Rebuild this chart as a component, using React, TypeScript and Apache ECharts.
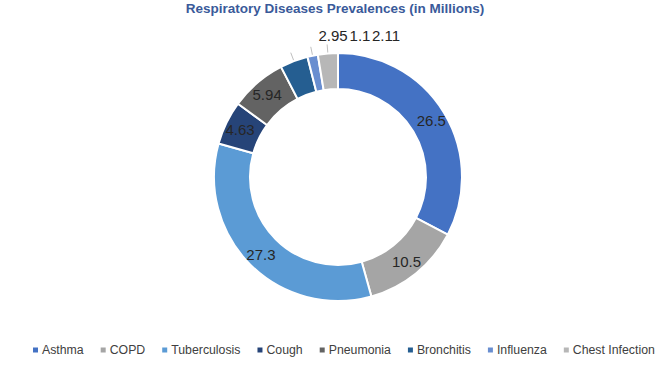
import React, { useEffect, useRef } from "react";
import * as echarts from "echarts";

const categories = ["Asthma", "COPD", "Tuberculosis", "Cough", "Pneumonia", "Bronchitis", "Influenza", "Chest Infection"];
const values = [26.5, 10.5, 27.3, 4.63, 5.94, 2.95, 1.1, 2.11];
const colors = ["#4472C4", "#A5A5A5", "#5B9BD5", "#264478", "#636363", "#255E91", "#698ED0", "#B7B7B7"];
const labelLabels = ["26.5", "10.5", "27.3", "4.63", "5.94", "2.95", "1.1", "2.11"];
const topLabelX = [0, 0, 0, 0, 0, 333, 360, 386];

export default function App() {
  const ref = useRef<HTMLDivElement>(null);
  useEffect(() => {
    const chart = echarts.init(ref.current!, null, { renderer: "svg" });
    const data = categories.map((name, i) => {
      const small = i >= 5;
      return {
        name,
        value: values[i],
        itemStyle: { color: colors[i] },
        label: small
          ? { show: true, position: "outside", formatter: labelLabels[i] }
          : { show: true, position: "inside", formatter: labelLabels[i] },
        labelLine: small
          ? { show: true, length: 9, length2: 0, lineStyle: { color: "#BFBFBF", width: 1 } }
          : { show: false },
      };
    });
    chart.setOption({
      animation: false,
      backgroundColor: "#ffffff",
      title: {
        text: "Respiratory Diseases Prevalences (in Millions)",
        left: "center",
        top: -4,
        textStyle: { fontFamily: "Liberation Sans", fontSize: 13.5, fontWeight: "bold", color: "#3A5A9A" },
      },
      legend: {
        bottom: 11,
        left: 26,
        itemWidth: 7,
        itemHeight: 7,
        itemGap: 15,
        icon: "rect",
        textStyle: { fontFamily: "Liberation Sans", fontSize: 12.3, color: "#404040", padding: [0, 0, 0, -2] },
        data: categories,
      },
      series: [
        {
          type: "pie",
          center: [338, 177],
          radius: [88, 124],
          startAngle: 90,
          clockwise: true,
          avoidLabelOverlap: false,
          itemStyle: { borderColor: "#ffffff", borderWidth: 2 },
          label: { fontFamily: "Liberation Sans", fontSize: 15, color: "#262626" },
          labelLayout: (p: any) => {
            const i = p.dataIndex;
            if (i >= 5) {
              return {
                x: topLabelX[i],
                y: 35,
                align: "center",
                verticalAlign: "middle",
                labelLinePoints: p.labelLinePoints ? [p.labelLinePoints[0], p.labelLinePoints[1]] : undefined,
              };
            }
            return {};
          },
          data,
        },
      ],
    });
    return () => chart.dispose();
  }, []);
  return (
    <div
      ref={ref}
      style={{ position: "absolute", left: 0, top: 0, width: 670, height: 372 }}
    />
  );
}
